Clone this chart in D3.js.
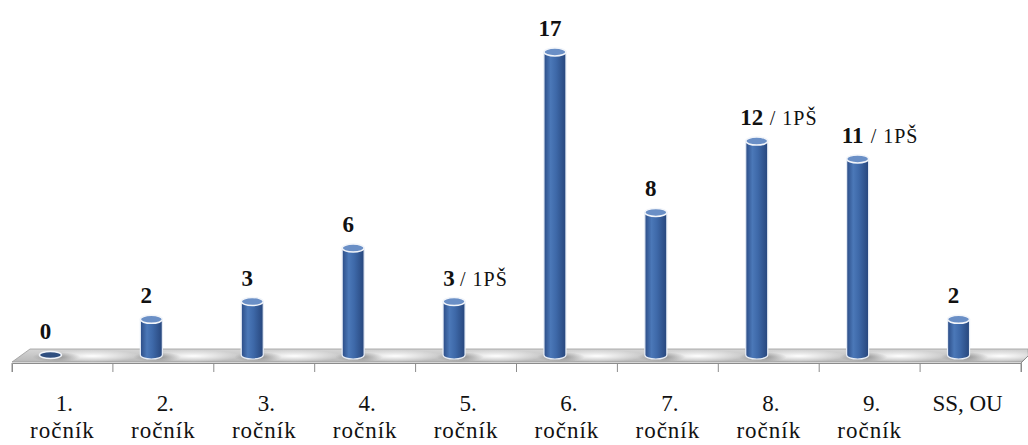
<!DOCTYPE html>
<html>
<head>
<meta charset="utf-8">
<script src="https://cdnjs.cloudflare.com/ajax/libs/d3/7.8.5/d3.min.js"></script>
<style>
  body{margin:0;background:#fff;}
</style>
</head>
<body>
<div id="chart"></div>
<script>
var width = 1028, height = 445;
var serif = "Liberation Serif";

// data
var categories = ["1. ročník","2. ročník","3. ročník","4. ročník","5. ročník","6. ročník","7. ročník","8. ročník","9. ročník","SS, OU"];
var values = [0,2,3,6,3,17,8,12,11,2];
var suffixes = ["","","","","1PŠ","","","1PŠ","1PŠ",""];

var svg = d3.select("#chart").append("svg")
  .attr("width", width)
  .attr("height", height);

var defs = svg.append("defs");

var barGrad = defs.append("linearGradient").attr("id","barGrad").attr("x1","0").attr("x2","1").attr("y1","0").attr("y2","0");
barGrad.append("stop").attr("offset","0%").attr("stop-color","#2b4c86");
barGrad.append("stop").attr("offset","30%").attr("stop-color","#4b78b8");
barGrad.append("stop").attr("offset","55%").attr("stop-color","#3e69a9");
barGrad.append("stop").attr("offset","100%").attr("stop-color","#27467c");

var floorGrad = defs.append("linearGradient").attr("id","floorGrad").attr("x1","0").attr("x2","0").attr("y1","0").attr("y2","1");
floorGrad.append("stop").attr("offset","0%").attr("stop-color","#d6d6d6");
floorGrad.append("stop").attr("offset","100%").attr("stop-color","#b8b8b8");

var shadowGrad = defs.append("radialGradient").attr("id","shadowGrad");
shadowGrad.append("stop").attr("offset","0%").attr("stop-color","#ffffff").attr("stop-opacity",1);
shadowGrad.append("stop").attr("offset","100%").attr("stop-color","#ffffff").attr("stop-opacity",0);

var darkGrad = defs.append("radialGradient").attr("id","darkGrad");
darkGrad.append("stop").attr("offset","0%").attr("stop-color","#7d7d7d").attr("stop-opacity",0.8);
darkGrad.append("stop").attr("offset","100%").attr("stop-color","#7d7d7d").attr("stop-opacity",0);

// scales
var x = d3.scaleBand().domain(categories).range([12, 1021]).padding(0);
var y = d3.scaleLinear().domain([0,17]).range([355, 52]);
var barW = 22, depthShift = -12;
function cx(d){ return x(d) + x.bandwidth()/2 + depthShift; }

// floor
svg.append("path")
  .attr("d","M12,362 L30,349 L1028,349 L1028,356 L1021,362 Z")
  .attr("fill","url(#floorGrad)")
  .attr("stroke","#9a9a9a")
  .attr("stroke-width",0.8);

// highlight / shadow on the floor next to each bar
svg.append("g").selectAll("ellipse")
  .data(categories)
  .enter().append("ellipse")
  .attr("cx", function(d){ return cx(d) + 42; })
  .attr("cy", 356)
  .attr("rx", 48)
  .attr("ry", 6)
  .attr("fill","url(#shadowGrad)");

svg.append("g").selectAll("ellipse")
  .data(categories)
  .enter().append("ellipse")
  .attr("cx", function(d){ return cx(d) + 6; })
  .attr("cy", 357)
  .attr("rx", 24)
  .attr("ry", 5)
  .attr("fill","url(#darkGrad)");

// axis
var axis = svg.append("g").attr("transform","translate(0,363)")
  .call(d3.axisBottom(x).tickSize(9).tickSizeOuter(9).tickFormat(""));
axis.select(".domain").attr("stroke","#8c8c8c");
axis.selectAll(".tick line").attr("stroke","#8c8c8c").attr("transform","translate(" + (-x.bandwidth()/2) + ",0)");
axis.append("line").attr("x1",1021).attr("x2",1021).attr("y1",0).attr("y2",9).attr("stroke","#8c8c8c");
axis.append("line").attr("x1",1021).attr("x2",1028).attr("y1",0).attr("y2",-7).attr("stroke","#8c8c8c");

// axis labels
var labs = svg.append("g")
  .attr("font-family", serif)
  .attr("font-size", 23)
  .attr("fill","#111")
  .selectAll("g")
  .data(categories)
  .enter().append("g")
  .attr("transform", function(d){ return "translate(" + (x(d) + x.bandwidth()/2) + ",0)"; });
labs.append("text")
  .attr("text-anchor","middle")
  .attr("y",411)
  .attr("x", function(d){ return d.indexOf("ročník") >= 0 ? 2 : -3; })
  .text(function(d){ return d.split(" ročník")[0]; });
labs.filter(function(d){ return d.indexOf("ročník") >= 0; })
  .append("text")
  .attr("text-anchor","middle")
  .attr("x",0)
  .attr("y",438)
  .attr("letter-spacing",1)
  .text("ročník");

// bars
var bars = svg.append("g")
  .attr("font-family", serif)
  .attr("fill","#111")
  .selectAll("g")
  .data(values)
  .enter().append("g")
  .attr("transform", function(d,i){ return "translate(" + cx(categories[i]) + ",0)"; });

bars.filter(function(d){ return d > 0; }).append("path")
  .attr("d", function(d){
    var t = y(d), b = y(0);
    return "M" + (-barW/2) + "," + t + " L" + (-barW/2) + "," + b +
      " A" + (barW/2) + ",4 0 0 0 " + (barW/2) + "," + b +
      " L" + (barW/2) + "," + t + " Z";
  })
  .attr("fill","url(#barGrad)")
  .attr("stroke","#e8eef7")
  .attr("stroke-width",1.2);

bars.append("ellipse")
  .attr("cx",0)
  .attr("cy", function(d){ return y(d); })
  .attr("rx", barW/2)
  .attr("ry", function(d){ return d > 0 ? 4 : 3.5; })
  .attr("fill", function(d){ return d > 0 ? "#6a8fc6" : "#2f4f80"; })
  .attr("stroke","#f2f5fa")
  .attr("stroke-width",1.5);

// value labels
bars.append("text")
  .attr("y", function(d){ return y(d) - 16; })
  .attr("x", -5)
  .attr("text-anchor","middle")
  .attr("font-size", 23)
  .attr("font-weight","bold")
  .text(function(d){ return d; });

bars.append("text")
  .attr("y", function(d){ return y(d) - 16; })
  .attr("x", function(d){ return d >= 10 ? 13 : 6; })
  .attr("font-size", 20)
  .attr("letter-spacing",1)
  .text(function(d,i){ return suffixes[i] ? "/ " + suffixes[i] : ""; });
</script>
</body>
</html>
